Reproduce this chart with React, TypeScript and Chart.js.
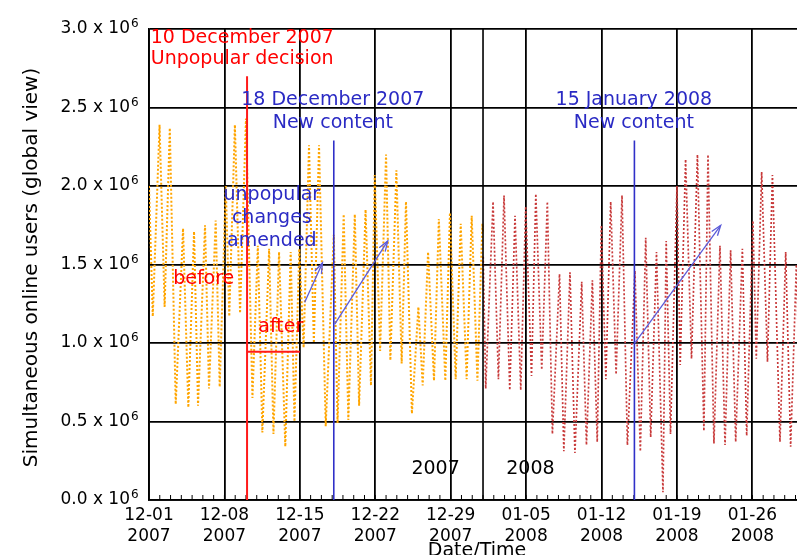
import React, { useEffect, useRef } from "react";
import { Chart, registerables } from "chart.js";

Chart.register(...registerables);

const FONT_FAMILY = "'DejaVu Sans', 'Liberation Sans', sans-serif";

// ---------- axes ----------
const xTickDays = [0, 7, 14, 21, 28, 35, 42, 49, 56];
const xTickDates = ["12-01", "12-08", "12-15", "12-22", "12-29", "01-05", "01-12", "01-19", "01-26"];
const xTickYears = ["2007", "2007", "2007", "2007", "2007", "2008", "2008", "2008", "2008"];
const xMaxDay = 60.14;
const yTickValues = [0, 0.5, 1, 1.5, 2, 2.5, 3];
const yTickMantissas = ["0.0", "0.5", "1.0", "1.5", "2.0", "2.5", "3.0"];
const yTickExponent = "6";
const yearBoundaryDay = 31;

// ---------- data: days since 2007-12-01 00:00, users in millions ----------
const days2007 = [
  0.0, 0.35, 0.98, 1.45, 1.93, 2.48, 3.16, 3.65, 4.18, 4.55, 5.2, 5.57, 6.19, 6.56, 7.13, 7.45,
  7.97, 8.45, 9.0, 9.6, 10.1, 10.52, 11.15, 11.55, 12.07, 12.65, 13.15, 13.5, 13.95, 14.35, 14.85, 15.3,
  15.78, 16.4, 17.15, 17.5, 18.07, 18.5, 19.1, 19.5, 20.1, 20.6, 20.95, 21.45, 22.0, 22.4, 22.96, 23.45,
  23.85, 24.4, 25.0, 25.4, 25.9, 26.45, 26.9, 27.5, 27.93, 28.46, 28.93, 29.48, 29.95, 30.48, 30.94, 31.0,
];
const users2007 = [
  2.0, 1.17, 2.39, 1.23, 2.37, 0.61, 1.73, 0.59, 1.71, 0.6, 1.75, 0.71, 1.78, 0.72, 2.0, 1.17,
  2.39, 1.19, 2.43, 0.65, 1.62, 0.43, 1.6, 0.42, 1.58, 0.34, 1.58, 0.5, 1.6, 0.97, 2.26, 1.0,
  2.26, 0.47, 1.69, 0.49, 1.82, 0.51, 1.82, 0.6, 1.85, 0.73, 2.07, 0.95, 2.2, 0.89, 2.1, 0.87,
  1.9, 0.55, 1.23, 0.73, 1.58, 0.76, 1.79, 0.76, 1.83, 0.77, 1.76, 0.77, 1.81, 0.76, 1.76, 1.7,
];
const days2008 = [
  31.02, 31.25, 31.93, 32.43, 32.95, 33.48, 33.97, 34.5, 34.96, 35.5, 35.9, 36.45, 36.97, 37.44, 38.1,
  38.5, 39.07, 39.53, 40.16, 40.6, 41.15, 41.6, 41.98, 42.4, 42.85, 43.35, 43.9, 44.4, 45.1, 45.6,
  46.1, 46.56, 47.1, 47.7, 48.0, 48.4, 49.0, 49.3, 49.8, 50.35, 50.9, 51.5, 51.88, 52.43, 52.99,
  53.46, 53.98, 54.45, 55.07, 55.47, 56.05, 56.36, 56.86, 57.4, 57.86, 58.56, 59.09, 59.55, 60.08, 60.5,
];
const users2008 = [
  1.55, 0.71, 1.9, 0.77, 1.94, 0.7, 1.81, 0.7, 1.87, 0.79, 1.95, 0.83, 1.9, 0.42, 1.44,
  0.31, 1.45, 0.3, 1.39, 0.35, 1.4, 0.37, 1.75, 0.77, 1.9, 0.8, 1.94, 0.35, 1.46, 0.31,
  1.67, 0.4, 1.58, 0.05, 1.65, 0.42, 2.0, 0.86, 2.17, 0.9, 2.2, 0.44, 2.2, 0.36, 1.62,
  0.35, 1.59, 0.37, 1.6, 0.41, 1.78, 0.9, 2.09, 0.88, 2.07, 0.37, 1.58, 0.34, 1.5, 0.4,
];

// ---------- events ----------
const decisionDay = 9.1;
const decisionTop = 2.7;
const contentDays = [17.15, 45.05];
const contentTop = 2.29;
const afterLevel = 0.945;
const afterEndDay = 14.0;

const annotationPlugin = {
  id: "annotations",
  afterDatasetsDraw(chart: any) {
    const { ctx, chartArea, scales } = chart;
    const x = scales.x;
    const y = scales.y;
    const px = (d: number) => x.getPixelForValue(d);
    const py = (v: number) => y.getPixelForValue(v);
    const line = (x1: number, y1: number, x2: number, y2: number) => {
      ctx.beginPath();
      ctx.moveTo(x1, y1);
      ctx.lineTo(x2, y2);
      ctx.stroke();
    };
    const arrow = (d1: number, v1: number, d2: number, v2: number) => {
      const x1 = px(d1), y1 = py(v1), x2 = px(d2), y2 = py(v2);
      line(x1, y1, x2, y2);
      const a = Math.atan2(y2 - y1, x2 - x1);
      const len = 11, sp = 0.33;
      ctx.beginPath();
      ctx.moveTo(x2 - len * Math.cos(a - sp), y2 - len * Math.sin(a - sp));
      ctx.lineTo(x2, y2);
      ctx.lineTo(x2 - len * Math.cos(a + sp), y2 - len * Math.sin(a + sp));
      ctx.stroke();
    };
    const text = (s: string, d: number, v: number, color: string, size: number, align: CanvasTextAlign) => {
      ctx.fillStyle = color;
      ctx.font = `${size}px ${FONT_FAMILY}`;
      ctx.textAlign = align;
      ctx.textBaseline = "middle";
      ctx.fillText(s, px(d), py(v));
    };

    ctx.save();
    // year boundary
    ctx.strokeStyle = "#000";
    ctx.lineWidth = 1.6;
    line(px(yearBoundaryDay), chartArea.top, px(yearBoundaryDay), chartArea.bottom);
    // daily minor ticks
    ctx.lineWidth = 1;
    for (let d = 1; d < xMaxDay; d++) {
      line(px(d), chartArea.bottom, px(d), chartArea.bottom - 5);
    }

    // unpopular decision
    ctx.strokeStyle = "#ff1a1a";
    ctx.lineWidth = 2;
    line(px(decisionDay), py(decisionTop), px(decisionDay), chartArea.bottom);
    line(px(decisionDay), py(afterLevel), px(afterEndDay), py(afterLevel));

    // new content lines
    ctx.strokeStyle = "#3030c8";
    ctx.lineWidth = 1.6;
    contentDays.forEach((d) => line(px(d), py(contentTop), px(d), chartArea.bottom));

    // arrows
    ctx.strokeStyle = "#5b5bd8";
    ctx.lineWidth = 1.3;
    arrow(14.45, 1.26, 16.1, 1.51);
    arrow(17.24, 1.12, 22.16, 1.65);
    arrow(45.08, 1.0, 53.06, 1.75);

    const red = "#ff0000";
    const blue = "#2a2ac4";
    text("10 December 2007", 0.16, 2.944, red, 19, "left");
    text("Unpopular decision", 0.16, 2.81, red, 19, "left");
    text("18 December 2007", 17.06, 2.55, blue, 19, "center");
    text("New content", 17.06, 2.4, blue, 19, "center");
    text("15 January 2008", 45.0, 2.55, blue, 19, "center");
    text("New content", 45.0, 2.4, blue, 19, "center");
    text("unpopular", 11.4, 1.944, blue, 19, "center");
    text("changes", 11.4, 1.797, blue, 19, "center");
    text("amended", 11.4, 1.65, blue, 19, "center");
    text("before", 5.08, 1.41, red, 19, "center");
    text("after", 12.23, 1.1, red, 19, "center");
    text("2007", 26.6, 0.2, "#000", 19, "center");
    text("2008", 35.4, 0.2, "#000", 19, "center");
    ctx.restore();
  },
  afterDraw(chart: any) {
    const { ctx, chartArea, scales } = chart;
    const y = scales.y;
    ctx.save();
    ctx.fillStyle = "#000";
    // exponents of y tick labels
    ctx.font = `12px ${FONT_FAMILY}`;
    ctx.textAlign = "left";
    ctx.textBaseline = "middle";
    yTickValues.forEach((v) => {
      ctx.fillText(yTickExponent, chartArea.left - 18, y.getPixelForValue(v) - 5);
    });
    // y title
    ctx.font = `20px ${FONT_FAMILY}`;
    ctx.textAlign = "center";
    ctx.textBaseline = "middle";
    ctx.save();
    ctx.translate(32, (chartArea.top + chartArea.bottom) / 2 + 3);
    ctx.rotate(-Math.PI / 2);
    ctx.fillText("Simultaneous online users (global view)", 0, 0);
    ctx.restore();
    // x title
    ctx.font = `19px ${FONT_FAMILY}`;
    ctx.textBaseline = "alphabetic";
    ctx.fillText("Date/Time", 477, 556);
    ctx.restore();
  },
};

export default function App() {
  const canvasRef = useRef<HTMLCanvasElement | null>(null);

  useEffect(() => {
    const canvas = canvasRef.current;
    if (!canvas) return;
    const tickFont = { family: FONT_FAMILY, size: 17, lineHeight: 1.18 };
    const chart = new Chart(canvas, {
      type: "line",
      data: {
        datasets: [
          {
            label: "2007",
            data: days2007.map((d, i) => ({ x: d, y: users2007[i] })),
            borderColor: "#ffa500",
            borderWidth: 2,
            borderDash: [2, 2],
            pointRadius: 0,
            tension: 0,
            fill: false,
          },
          {
            label: "2008",
            data: days2008.map((d, i) => ({ x: d, y: users2008[i] })),
            borderColor: "#c83a3a",
            borderWidth: 1.7,
            borderDash: [2, 2],
            pointRadius: 0,
            tension: 0,
            fill: false,
          },
        ],
      },
      options: {
        animation: false,
        responsive: false,
        devicePixelRatio: 1,
        layout: { padding: { top: 20, left: 0, right: 0, bottom: 0 } },
        plugins: { legend: { display: false }, tooltip: { enabled: false } },
        scales: {
          x: {
            type: "linear",
            min: 0,
            max: xMaxDay,
            afterBuildTicks: (s: any) => {
              s.ticks = xTickDays.map((v) => ({ value: v }));
            },
            afterFit: (s: any) => {
              s.height = 55;
            },
            ticks: {
              autoSkip: false,
              maxRotation: 0,
              padding: 6,
              color: "#000",
              font: tickFont,
              callback: (_v: any, i: number) => [xTickDates[i], xTickYears[i]],
            },
            grid: { color: "#000", lineWidth: 1.8, drawTicks: false },
            border: { color: "#000", width: 1.8 },
          },
          y: {
            type: "linear",
            min: 0,
            max: 3,
            afterBuildTicks: (s: any) => {
              s.ticks = yTickValues.map((v) => ({ value: v }));
            },
            afterFit: (s: any) => {
              s.width = 149;
            },
            ticks: {
              padding: 19,
              color: "#000",
              font: tickFont,
              callback: (_v: any, i: number) => `${yTickMantissas[i]} x 10`,
            },
            grid: { color: "#000", lineWidth: 1.8, drawTicks: false },
            border: { color: "#000", width: 1.8 },
          },
        },
      },
      plugins: [annotationPlugin],
    } as any);
    return () => chart.destroy();
  }, []);

  return (
    <div style={{ position: "absolute", left: 0, top: 0, width: 797, height: 555, background: "#fff" }}>
      <canvas ref={canvasRef} width={797} height={555} style={{ display: "block" }} />
    </div>
  );
}
